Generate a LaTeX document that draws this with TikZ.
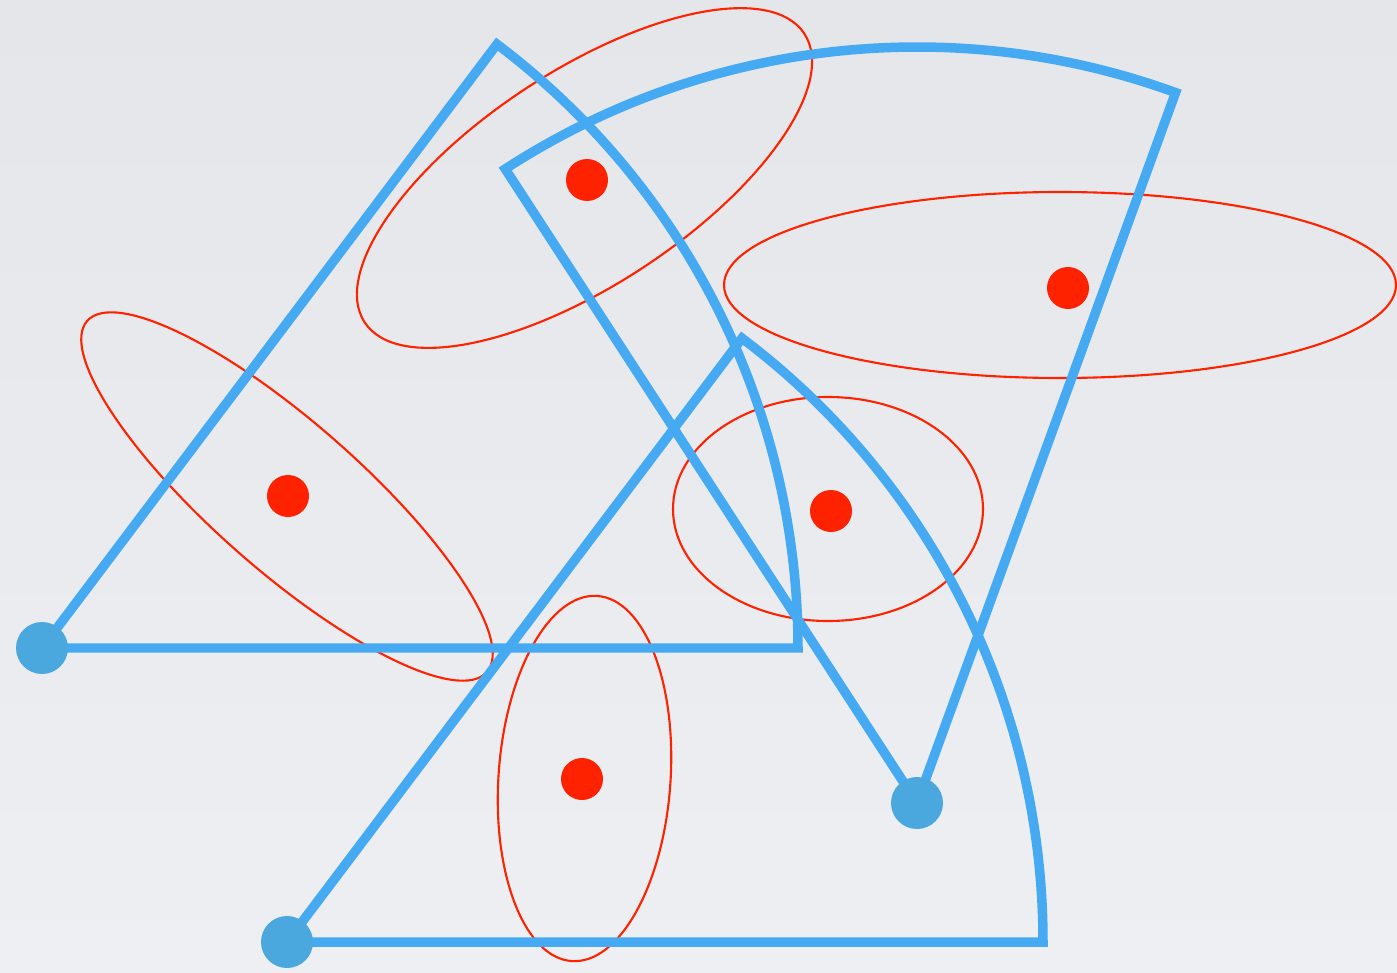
\documentclass[tikz,border=0pt]{standalone}
\usepackage{tikz}

\definecolor{fondoA}{RGB}{229,230,234}
\definecolor{fondoB}{RGB}{238,239,242}
\definecolor{azul}{RGB}{69,170,242}
\definecolor{azulpunto}{RGB}{74,168,222}
\definecolor{rojo}{RGB}{255,34,0}

\begin{document}
\begin{tikzpicture}[
    sector/.style={azul, line width=2.7pt},
    region/.style={rojo, line width=0.6pt},
    vertice/.style={fill=azulpunto},
    centro/.style={fill=rojo}]
    % -----------------------------------------------------
    % 0) Fondo
    % -----------------------------------------------------
    \shade[top color=fondoA, bottom color=fondoB] (0,0) rectangle (13.97,9.72);
    \useasboundingbox (0,0) rectangle (13.97,9.72);

    % -----------------------------------------------------
    % 1) Centros de las regiones
    % -----------------------------------------------------
    \coordinate (E1) at (5.845,7.94);
    \coordinate (E2) at (10.60,6.87);
    \coordinate (E3) at (2.87,4.755);
    \coordinate (E4) at (8.28,4.63);
    \coordinate (E5) at (5.845,1.935);

    % -----------------------------------------------------
    % 2) Regiones: elipses rojas
    % -----------------------------------------------------
    \draw[region, rotate around={33.3:(E1)}] (E1) ellipse (2.63 and 1.07);
    \draw[region] (E2) ellipse (3.36 and 0.93);
    \draw[region, rotate around={-41.3:(E3)}] (E3) ellipse (2.66 and 0.74);
    \draw[region] (E4) ellipse (1.55 and 1.12);
    \draw[region, rotate around={86:(E5)}] (E5) ellipse (1.83 and 0.86);

    % -----------------------------------------------------
    % 3) Sectores circulares (radio 7.56)
    % -----------------------------------------------------
    \coordinate (A1) at (0.42,3.24);
    \coordinate (A2) at (2.87,0.30);
    \coordinate (A3) at (9.17,1.69);

    \draw[sector] (A1) -- ++(0:7.56) arc (0:53:7.56) -- cycle;
    \draw[sector] (A2) -- ++(0:7.56) arc (0:53:7.56) -- cycle;
    \draw[sector] (A3) -- ++(70:7.56) arc (70:123:7.56) -- cycle;

    % -----------------------------------------------------
    % 4) Puntos: vertices azules y centros rojos
    % -----------------------------------------------------
    \fill[vertice] (A1) circle (0.26);
    \fill[vertice] (A2) circle (0.26);
    \fill[vertice] (A3) circle (0.26);

    \fill[centro] (5.87,7.92) circle (0.21);
    \fill[centro] (10.68,6.84) circle (0.21);
    \fill[centro] (2.88,4.76) circle (0.21);
    \fill[centro] (8.31,4.61) circle (0.21);
    \fill[centro] (5.82,1.93) circle (0.21);

\end{tikzpicture}
\end{document}
